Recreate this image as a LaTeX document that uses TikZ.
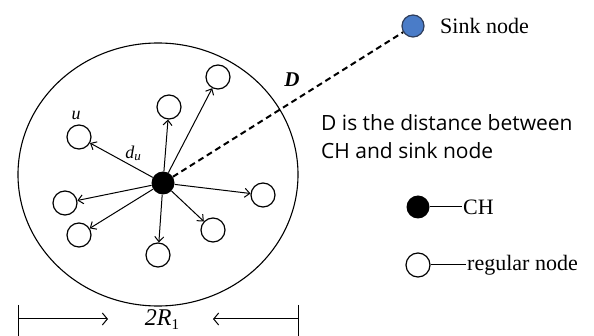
\documentclass[tikz,border=0pt]{standalone}
\usepackage{fontspec}
\setmainfont{Liberation Serif}
\newfontfamily\labelsans{Open Sans}
\usetikzlibrary{arrows.meta}
\definecolor{sinkblue}{HTML}{4A7CC8}
\definecolor{sinkedge}{HTML}{2F3E5C}
\tikzset{
  reg/.style={circle, draw, line width=1.2pt, minimum size=24pt, inner sep=0pt, fill=white},
  chnode/.style={circle, fill=black, minimum size=23pt, inner sep=0pt},
  sinknode/.style={circle, draw=sinkedge, line width=1.2pt, fill=sinkblue, minimum size=22pt, inner sep=0pt},
  link/.style={line width=1pt, -{Straight Barb[length=5pt,width=9pt]}},
  dimarrow/.style={line width=1pt, -{Straight Barb[length=5pt,width=12pt]}},
  lbl/.style={inner sep=0pt},
  legtext/.style={font=\fontsize{22}{26}\selectfont, anchor=west, inner sep=0pt},
}
\begin{document}
\begin{tikzpicture}[x=1pt,y=-1pt]
\clip (0,0) rectangle (594,336);
\fill[white] (0,0) rectangle (594,336);
% cluster boundary
\draw[line width=1.1pt] (158,174.5) ellipse [x radius=140, y radius=131.5];
% CH and members
\node[chnode] (ch) at (163,183) {};
\node[reg] (n1) at (218,77) {};
\node[reg] (n2) at (169,107) {};
\node[reg] (nu) at (79,137) {};
\node[reg] (n4) at (263,195) {};
\node[reg] (n5) at (65,203) {};
\node[reg] (n6) at (79,235) {};
\node[reg] (n7) at (158,255) {};
\node[reg] (n8) at (213,230) {};
\foreach \n in {n1,n2,nu,n4,n5,n6,n7,n8} \draw[link] (ch) -- (\n);
% sink
\node[sinknode] (sink) at (413,26) {};
\draw[line width=2pt, dash pattern=on 6pt off 4pt] (ch) -- (sink);
\node[legtext] (sinklbl) at (440,26) {Sink node};
% labels
\node[lbl, font=\fontsize{18}{20}\selectfont\itshape] (ulbl) at (76,115) {u};
\node[lbl, font=\fontsize{18}{20}\selectfont\itshape] (dulbl) at (133,153) {d\raisebox{-0.25ex}{\fontsize{13}{14}\selectfont u}};
\node[lbl, font=\fontsize{21}{24}\selectfont\itshape\bfseries] (Dlbl) at (292,80) {D};
% explanation
\node[anchor=north west, inner sep=0pt, align=left, font=\labelsans\fontsize{21}{28}\selectfont] (expl) at (321,114) {D is the distance between\\CH and sink node};
% legend
\node[chnode] (legch) at (418,207) {};
\coordinate (legchend) at (462,207);
\draw[line width=1pt] (legch) -- (legchend);
\node[legtext] (legchlbl) at (463,207) {CH};
\node[reg] (legreg) at (418,265) {};
\coordinate (legregend) at (466,265);
\draw[line width=1pt] (legreg) -- (legregend);
\node[legtext] (legreglbl) at (467,265) {regular node};
% dimension
\coordinate (bl) at (18,305);
\coordinate (blb) at (18,340);
\coordinate (br) at (298,305);
\coordinate (brb) at (298,340);
\draw[line width=1pt] (bl) -- (blb);
\draw[line width=1pt] (br) -- (brb);
\coordinate (la) at (18,319);
\coordinate (lb) at (108,319);
\coordinate (ra) at (298,319);
\coordinate (rb) at (213,319);
\draw[dimarrow] (la) -- (lb);
\draw[dimarrow] (ra) -- (rb);
\node[anchor=base, inner sep=0pt, font=\fontsize{24}{26}\selectfont] (twor) at (162,326) {\textit{2R}\raisebox{-0.3ex}{\fontsize{15}{16}\selectfont 1}};
\end{tikzpicture}
\end{document}
